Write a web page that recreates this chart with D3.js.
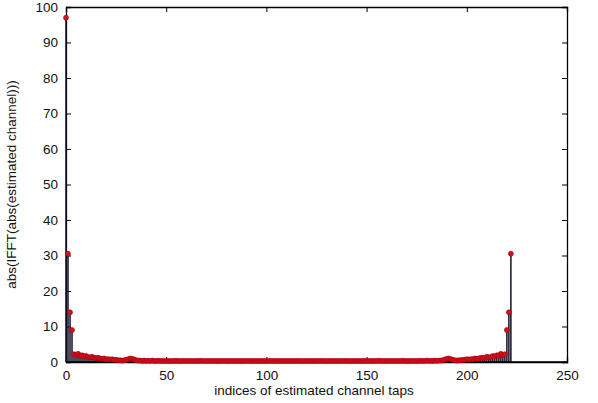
<!DOCTYPE html>
<html>
<head>
<meta charset="utf-8">
<script src="https://cdn.jsdelivr.net/npm/d3@7"></script>
<style>
  body { margin: 0; background: #fff; }
  svg { display: block; font-family: "Liberation Sans", Arial, sans-serif; }
  .tick text { font-size: 13.5px; fill: #111; }
  .domain { stroke: #000; }
  .tick line { stroke: #000; }
  .unit { font-size: 13.5px; fill: #111; }
</style>
</head>
<body>
<div id="svg-container"></div>
<script>
// data: magnitude of each estimated channel tap (index = tap number)
const tapValues = [
  97, 30.5, 14, 9, 2.2, 2.0, 2.3, 1.8, 1.9, 1.6,
  1.7, 1.4, 1.3, 1.5, 1.2, 1.1, 1.2, 1.0, 0.9, 1.0,
  0.8, 0.8, 0.7, 0.8, 0.6, 0.6, 0.5, 0.5, 0.4, 0.5,
  0.6, 0.8, 1.0, 0.9, 0.7, 0.5, 0.4, 0.4, 0.3, 0.4,
  0.3, 0.35, 0.3, 0.4, 0.3, 0.3, 0.35, 0.3, 0.25, 0.3,
  0.3, 0.3, 0.25, 0.3, 0.3, 0.35, 0.3, 0.3, 0.25, 0.3,
  0.3, 0.3, 0.3, 0.25, 0.3, 0.3, 0.3, 0.35, 0.3, 0.3,
  0.25, 0.3, 0.3, 0.3, 0.3, 0.25, 0.3, 0.3, 0.3, 0.3,
  0.3, 0.25, 0.3, 0.3, 0.3, 0.3, 0.3, 0.25, 0.3, 0.3,
  0.3, 0.3, 0.3, 0.25, 0.3, 0.3, 0.3, 0.3, 0.3, 0.25,
  0.3, 0.3, 0.3, 0.3, 0.3, 0.25, 0.3, 0.3, 0.3, 0.3, 0.3, 0.3,
  0.3, 0.3, 0.3, 0.3, 0.3, 0.3, 0.25, 0.3, 0.3, 0.3, 0.3,
  0.3, 0.25, 0.3, 0.3, 0.3, 0.3, 0.3, 0.25, 0.3, 0.3,
  0.3, 0.3, 0.3, 0.25, 0.3, 0.3, 0.3, 0.3, 0.3, 0.25,
  0.3, 0.3, 0.3, 0.3, 0.3, 0.25, 0.3, 0.3, 0.3, 0.3,
  0.25, 0.3, 0.3, 0.35, 0.3, 0.3, 0.3, 0.25, 0.3, 0.3,
  0.3, 0.3, 0.25, 0.3, 0.3, 0.35, 0.3, 0.3, 0.25, 0.3,
  0.3, 0.3, 0.25, 0.3, 0.35, 0.3, 0.3, 0.4, 0.3, 0.35,
  0.3, 0.4, 0.3, 0.4, 0.4, 0.5, 0.7, 0.9, 1.0, 0.8,
  0.6, 0.5, 0.4, 0.5, 0.5, 0.6, 0.6, 0.8, 0.7, 0.8,
  0.8, 1.0, 0.9, 1.0, 1.2, 1.1, 1.2, 1.5, 1.3, 1.4,
  1.7, 1.6, 1.9, 1.8, 2.3, 2.0, 2.2, 9, 14, 30.5
];
const xTicks = [0, 50, 100, 150, 200, 250];
const yTicks = [0, 10, 20, 30, 40, 50, 60, 70, 80, 90, 100];

const width = 598;
const height = 403;
const margin = { top: 7, right: 31, bottom: 41, left: 66 };

const svg = d3
  .select("#svg-container")
  .append("svg")
  .attr("width", width)
  .attr("height", height);

// scales
const xScale = d3.scaleLinear().domain([0, 250]).range([margin.left, width - margin.right]);
const yScale = d3.scaleLinear().domain([0, 100]).range([height - margin.bottom, margin.top]);

// axes (MATLAB style: ticks inside, box on)
const xAxis = d3.axisBottom(xScale).tickValues(xTicks).tickSize(-5).tickPadding(8);
const yAxis = d3.axisLeft(yScale).tickValues(yTicks).tickSize(-5).tickPadding(8);

svg.append("g")
  .attr("transform", `translate(0, ${height - margin.bottom})`)
  .call(xAxis);
svg.append("g")
  .attr("transform", `translate(${margin.left}, 0)`)
  .call(yAxis);
svg.append("g")
  .attr("transform", `translate(0, ${margin.top})`)
  .call(d3.axisTop(xScale).tickValues(xTicks).tickSize(-5).tickFormat(""));
svg.append("g")
  .attr("transform", `translate(${width - margin.right}, 0)`)
  .call(d3.axisRight(yScale).tickValues(yTicks).tickSize(-5).tickFormat(""));

svg.selectAll(".domain").attr("stroke-width", 1.3);

// stems
const data = tapValues.map((v, i) => ({ idx: i, value: v }));

svg.append("g")
  .selectAll("line")
  .data(data)
  .enter()
  .append("line")
  .attr("x1", (d) => xScale(d.idx))
  .attr("x2", (d) => xScale(d.idx))
  .attr("y1", yScale(0))
  .attr("y2", (d) => yScale(d.value))
  .attr("stroke", "#101028")
  .attr("stroke-width", 1.5);

// baseline
svg.append("line")
  .attr("x1", xScale(0))
  .attr("x2", xScale(250))
  .attr("y1", yScale(0))
  .attr("y2", yScale(0))
  .attr("stroke", "#000")
  .attr("stroke-width", 1.3);

// markers
svg.append("g")
  .selectAll("circle")
  .data(data)
  .enter()
  .append("circle")
  .attr("cx", (d) => xScale(d.idx))
  .attr("cy", (d) => yScale(d.value))
  .attr("r", 2.5)
  .attr("fill", "#d4101c")
  .attr("stroke", "#a8000e")
  .attr("stroke-width", 0.6);

// units
svg.append("text")
  .attr("class", "unit")
  .attr("text-anchor", "middle")
  .attr("x", 314)
  .attr("y", height - 8)
  .text("indices of estimated channel taps");

svg.append("text")
  .attr("class", "unit")
  .attr("text-anchor", "middle")
  .attr("transform", `translate(16, ${(margin.top + height - margin.bottom) / 2}) rotate(-90)`)
  .text("abs(IFFT(abs(estimated channel)))");
</script>
</body>
</html>
